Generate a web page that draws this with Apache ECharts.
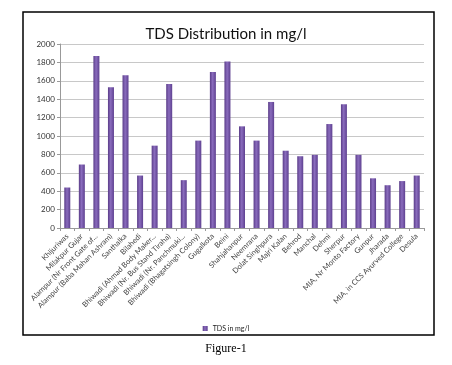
<!DOCTYPE html>
<html>
<head>
<meta charset="utf-8">
<script src="https://cdn.jsdelivr.net/npm/echarts@6/dist/echarts.min.js"></script>
<style>html,body{margin:0;padding:0;background:#fff;}#c{width:452px;height:365px;}</style>
</head>
<body>
<div id="c"></div>
<script>
const categories = ["Khijuriwas","Milakpur Gujar","Alampur (Nr Front Gate of...","Alampur (Baba Mahan Ashram)","Santhalka","Bilahedi","Bhiwadi (Ahmad Body Maker...","Bhiwadi (Nr. Bus Stand Tiraha)","Bhiwadi (Nr. Panchmuki...","Bhiwadi (Bhagatsingh Colony)","Gugalkota","Beini","Shahjahanpur","Neemrana","Dolat Singhpura","Majri Kalan","Behrod","Manchal","Dehmi","Sherpur","MIA, Nr Monto Factory","Gunpur","Jharada","MIA, in CCS Ayurved College","Desula"];
const tdsValues = [440,690,1870,1530,1660,570,895,1565,520,950,1695,1810,1105,950,1370,840,780,795,1130,1345,795,540,465,510,570];
const seriesName = "TDS in mg/l";
const yTicks = {min:0, max:2000, interval:200};

const chart = echarts.init(document.getElementById('c'), null, {renderer:'canvas'});
const barColor = new echarts.graphic.LinearGradient(0,0,1,0,[
  {offset:0,color:'#5a3c88'},{offset:0.45,color:'#8a6cbd'},{offset:1,color:'#5e4090'}
]);
chart.setOption({
  animation:false,
  backgroundColor:'#fff',
  title:[{text:'TDS Distribution in mg/l',left:'center',top:22,
    textStyle:{fontFamily:'Lato',fontWeight:'normal',fontSize:15,color:'#111'}},
    {text:'Figure-1',left:'center',top:338,
    textStyle:{fontFamily:'Liberation Serif',fontWeight:'normal',fontSize:12,color:'#000'}}],
  grid:{left:60,right:28,top:44,bottom:137},
  legend:{data:[seriesName],left:'center',top:320,itemWidth:5,itemHeight:5,itemGap:4,
    icon:'rect',textStyle:{fontFamily:'Lato',fontSize:7,color:'#222'}},
  xAxis:{type:'category',data:categories,
    axisLine:{lineStyle:{color:'#999'}},
    axisTick:{show:true,lineStyle:{color:'#999'},length:3},
    axisLabel:{rotate:45,fontFamily:'Lato',fontSize:7.5,color:'#444',interval:0,margin:7}},
  yAxis:{type:'value',min:yTicks.min,max:yTicks.max,interval:yTicks.interval,
    axisLine:{show:true,lineStyle:{color:'#999'}},
    axisTick:{show:true,length:3,lineStyle:{color:'#999'}},
    splitLine:{lineStyle:{color:'#c8c8c8'}},
    axisLabel:{fontFamily:'Lato',fontSize:8,color:'#333',margin:5,formatter:function(v){return String(v);}}},
  series:[{name:seriesName,type:'bar',data:tdsValues,barWidth:6,
    itemStyle:{color:barColor}}],
  graphic:[{type:'rect',shape:{x:23,y:12,width:411,height:323},
    style:{fill:'none',stroke:'#000',lineWidth:1.5},z:100}]
});
</script>
</body>
</html>
